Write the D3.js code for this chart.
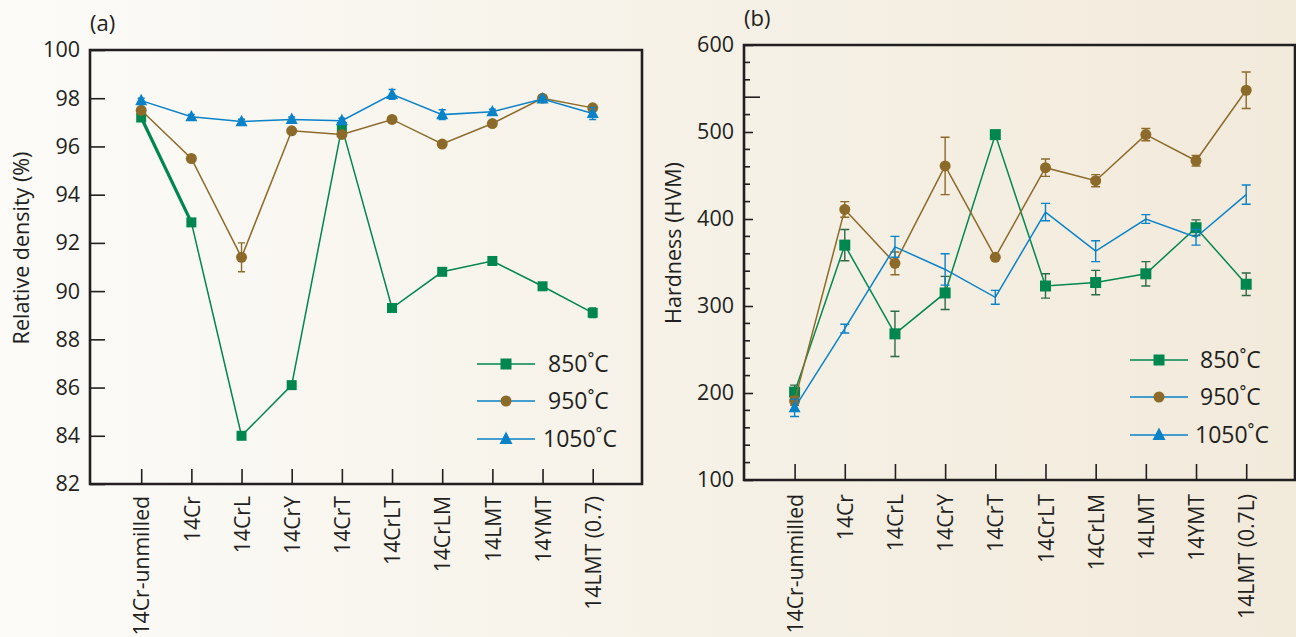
<!DOCTYPE html>
<html>
<head>
<meta charset="utf-8">
<script src="https://cdn.jsdelivr.net/npm/d3@7"></script>
<style>
  body { margin: 0; }
  svg text { font-family: "Open Sans", "Noto Sans", sans-serif; fill: #231f20; }
</style>
</head>
<body>
<div id="chart"></div>
<script>
// categories
const catsA = ['14Cr-unmilled', '14Cr', '14CrL', '14CrY', '14CrT', '14CrLT', '14CrLM', '14LMT', '14YMT', '14LMT (0.7)'];
const catsB = ['14Cr-unmilled', '14Cr', '14CrL', '14CrY', '14CrT', '14CrLT', '14CrLM', '14LMT', '14YMT', '14LMT (0.7L)'];

// (a) relative density, %
const density850 = [97.2, 92.85, 84.0, 86.1, 96.8, 89.3, 90.8, 91.25, 90.2, 89.1];
const density950 = [97.5, 95.5, 91.4, 96.65, 96.5, 97.12, 96.1, 96.95, 98.0, 97.6];
const density1050 = [97.9, 97.23, 97.03, 97.12, 97.07, 98.16, 97.32, 97.44, 97.97, 97.37];
const densityErr850 = [0, 0.15, 0, 0, 0, 0, 0, 0, 0, 0.2];
const densityErr950 = [0, 0, 0.6, 0, 0, 0, 0, 0, 0.15, 0];
const densityErr1050 = [0.1, 0.1, 0.1, 0.1, 0.1, 0.2, 0.2, 0.1, 0.1, 0.25];

// (b) hardness, HVM
const hard850 = [201, 370, 268, 315, 497, 323, 327, 337, 390, 325];
const hard950 = [191, 411, 349, 461, 356, 459, 444, 497, 467, 548];
const hard1050 = [183, 274, 368, 342, 310, 408, 363, 400, 379, 428];
const hardErr850 = [8, 18, 26, 19, 0, 14, 14, 14, 9, 13];
const hardErr950 = [5, 9, 13, 33, 0, 10, 7, 7, 6, 21];
const hardErr1050 = [10, 5, 12, 18, 8, 10, 12, 5, 9, 11];

// tick labels
const densityTicks = [82, 84, 86, 88, 90, 92, 94, 96, 98, 100];
const hardTicks = [100, 200, 300, 400, 500, 600];
const hardMinorTicks = [120, 140, 160, 180, 220, 240, 260, 280, 320, 340, 360, 380, 420, 440, 460, 480, 520, 560, 580];
const hardLongTick = [540];

const legendLabels = ['850˚C', '950˚C', '1050˚C'];

const green = '#00874f', brown = '#8c6a2a', blue = '#0a82c8', ink = '#231f20';

const svg = d3.select('#chart').append('svg')
  .attr('width', 1296)
  .attr('height', 637);

const defs = svg.append('defs');
const grad = defs.append('linearGradient').attr('id', 'bg');
grad.append('stop').attr('offset', '0%').attr('stop-color', '#fcfbf8');
grad.append('stop').attr('offset', '50%').attr('stop-color', '#f6f2e8');
grad.append('stop').attr('offset', '100%').attr('stop-color', '#f2eadb');
svg.append('rect').attr('width', 1296).attr('height', 637).attr('fill', 'url(#bg)');

const marker = (g, type, x, y, color, size) => {
  if (type === 'square') {
    g.append('rect').attr('x', x - size / 2).attr('y', y - size / 2)
      .attr('width', size).attr('height', size).attr('fill', color);
  } else if (type === 'circle') {
    g.append('circle').attr('cx', x).attr('cy', y).attr('r', size / 2).attr('fill', color);
  } else {
    const h = size * 0.95;
    g.append('path')
      .attr('d', `M${x},${y - h * 0.6}L${x + size / 2},${y + h * 0.4}L${x - size / 2},${y + h * 0.4}Z`)
      .attr('fill', color);
  }
};

const drawPanel = (opt) => {
  const g = svg.append('g');
  const x = d3.scalePoint().domain(opt.cats).range(opt.xRange);
  const y = d3.scaleLinear().domain(opt.yDomain).range([opt.bottom, opt.top]);

  // series
  opt.series.forEach(s => {
    const pts = opt.cats.map((c, i) => [x(c), y(s.values[i]), s.err[i]]);
    const line = d3.line();
    g.append('path').attr('d', line(pts)).attr('fill', 'none')
      .attr('stroke', s.color).attr('stroke-width', 1.5);
    if (s.thickFirst) {
      g.append('path').attr('d', line(pts.slice(0, 2))).attr('fill', 'none')
        .attr('stroke', s.color).attr('stroke-width', 3.2);
    }
    pts.forEach(p => {
      if (!p[2]) return;
      const lo = p[1] + (y(0) - y(p[2]));
      const hi = p[1] - (y(0) - y(p[2]));
      const cap = opt.cap;
      g.append('path')
        .attr('d', `M${p[0]},${hi}V${lo}M${p[0] - cap},${hi}H${p[0] + cap}M${p[0] - cap},${lo}H${p[0] + cap}`)
        .attr('stroke', s.errColor || s.color).attr('stroke-width', 1.4).attr('fill', 'none');
    });
    pts.forEach((p, i) => {
      if (s.markAt && !s.markAt.includes(opt.cats[i])) return;
      marker(g, s.type, p[0], p[1], s.color, s.size);
    });
  });

  // box
  g.append('path')
    .attr('d', `M${opt.left},${opt.top}H${opt.right}V${opt.bottom}H${opt.left}Z`)
    .attr('fill', 'none').attr('stroke', ink).attr('stroke-width', 2.6);

  // y axis
  const ya = g.append('g').attr('transform', `translate(${opt.left},0)`)
    .call(d3.axisLeft(y).tickValues(opt.yTicks).tickSizeInner(-opt.yTickLen).tickSizeOuter(0).tickPadding(10));
  ya.select('.domain').remove();
  ya.selectAll('line').attr('stroke', ink).attr('stroke-width', 1.6);
  ya.selectAll('text').attr('font-size', 21.5).attr('fill', ink).attr('font-family', null);
  (opt.yMinor || []).forEach(v => {
    g.append('line').attr('x1', opt.left).attr('x2', opt.left + 6)
      .attr('y1', y(v)).attr('y2', y(v)).attr('stroke', ink).attr('stroke-width', 1.6);
  });
  (opt.yLong || []).forEach(v => {
    g.append('line').attr('x1', opt.left).attr('x2', opt.left + 16)
      .attr('y1', y(v)).attr('y2', y(v)).attr('stroke', ink).attr('stroke-width', 1.6);
  });

  // x axis
  const xa = g.append('g').attr('transform', `translate(0,${opt.bottom})`)
    .call(d3.axisBottom(x).tickSizeInner(-opt.xTickLen).tickSizeOuter(0));
  xa.select('.domain').remove();
  xa.selectAll('line').attr('stroke', ink).attr('stroke-width', 1.6);
  xa.selectAll('text')
    .attr('transform', 'rotate(-90)')
    .attr('x', -opt.xLabelGap).attr('y', 0).attr('dy', '0.36em')
    .attr('text-anchor', 'end')
    .attr('font-size', 21.2).attr('fill', ink).attr('font-family', null);

  // titles
  g.append('text').attr('x', opt.left).attr('y', opt.tagY).attr('font-size', 22).text(opt.tag);
  g.append('text')
    .attr('transform', `translate(${opt.titleX},${opt.titleY}) rotate(-90)`)
    .attr('text-anchor', 'middle').attr('dy', '0.36em')
    .attr('font-size', 21.5).text(opt.yTitle);

  // legend
  const lineCols = [green, blue, blue];
  const markCols = [green, brown, blue];
  const types = ['square', 'circle', 'triangle'];
  legendLabels.forEach((lab, i) => {
    const ly = opt.legY[i];
    g.append('line').attr('x1', opt.legX[0]).attr('x2', opt.legX[1])
      .attr('y1', ly).attr('y2', ly).attr('stroke', lineCols[i]).attr('stroke-width', 1.6);
    marker(g, types[i], (opt.legX[0] + opt.legX[1]) / 2, ly, markCols[i], types[i] === 'triangle' ? 13 : 11);
    g.append('text').attr('x', opt.legText - (i === 2 ? 5 : 0)).attr('y', ly).attr('dy', '0.36em')
      .attr('font-size', 23).text(lab);
  });
};

drawPanel({
  cats: catsA, xRange: [141.2, 592.7],
  left: 90, right: 642, top: 50, bottom: 484,
  yDomain: [82, 100], yTicks: densityTicks, yTickLen: 15, xTickLen: 15, xLabelGap: 12,
  cap: 3.5,
  series: [
    { values: density850, err: densityErr850, color: green, type: 'square', size: 10, thickFirst: true },
    { values: density950, err: densityErr950, color: brown, type: 'circle', size: 11 },
    { values: density1050, err: densityErr1050, color: blue, type: 'triangle', size: 12 }
  ],
  tag: '(a)', tagY: 31,
  yTitle: 'Relative density (%)', titleX: 21, titleY: 248,
  legY: [364, 401, 439], legX: [477, 535], legText: 548
});

drawPanel({
  cats: catsB, xRange: [794.6, 1246.2],
  left: 744, right: 1295, top: 45, bottom: 480,
  yDomain: [100, 600], yTicks: hardTicks, yTickLen: 9, xTickLen: 16, xLabelGap: 14,
  yMinor: hardMinorTicks, yLong: hardLongTick,
  cap: 4.5,
  series: [
    { values: hard850, err: hardErr850, color: green, errColor: '#2f6a47', type: 'square', size: 11 },
    { values: hard950, err: hardErr950, color: brown, type: 'circle', size: 11 },
    { values: hard1050, err: hardErr1050, color: blue, type: 'triangle', size: 12, markAt: ['14Cr-unmilled'] }
  ],
  tag: '(b)', tagY: 26,
  yTitle: 'Hardness (HVM)', titleX: 673, titleY: 243,
  legY: [360, 397, 435], legX: [1130, 1188], legText: 1200
});
</script>
</body>
</html>
